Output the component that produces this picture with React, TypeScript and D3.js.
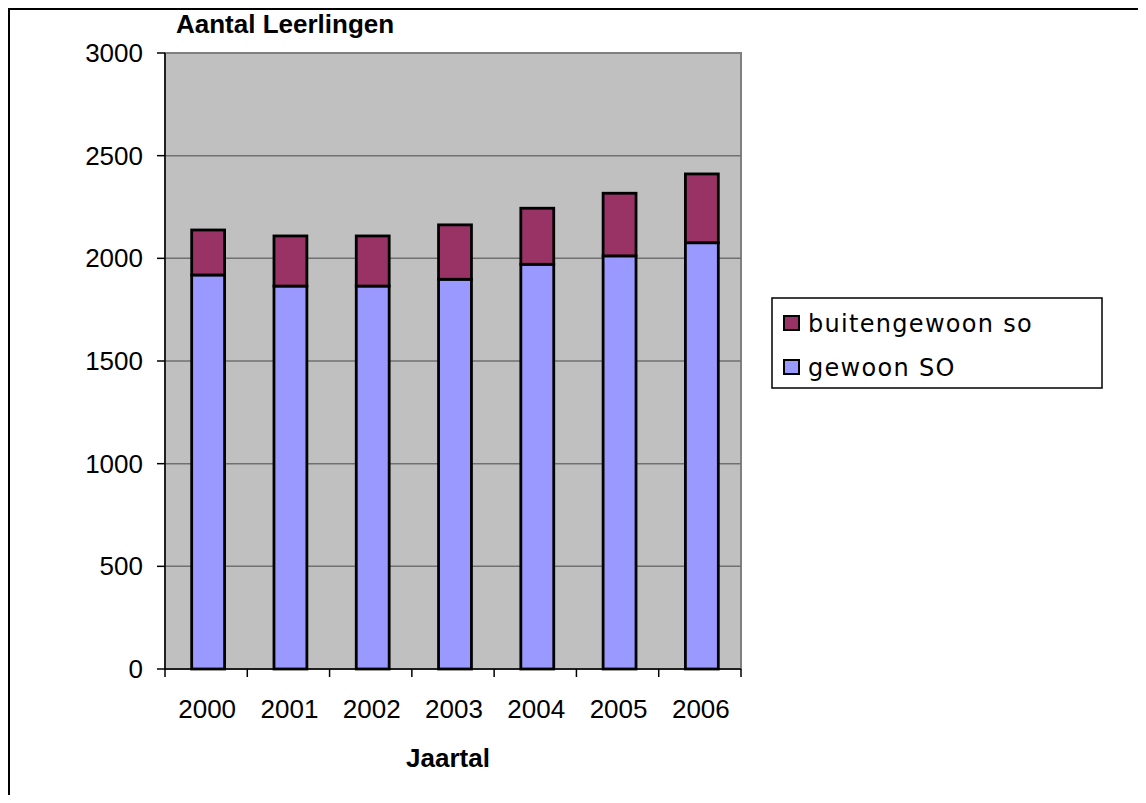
import { useMemo } from 'react'
import { scaleBand, scaleLinear, stack } from 'd3'

const YEARS = ['2000', '2001', '2002', '2003', '2004', '2005', '2006']
const GEWOON_SO = [1919, 1865, 1865, 1898, 1971, 2012, 2076]
const BUITENGEWOON_SO = [219, 244, 244, 265, 273, 305, 335]
const Y_TICKS = [0, 500, 1000, 1500, 2000, 2500, 3000]
const SERIES = [
  { key: 'gewoon', label: 'gewoon SO', color: '#9999FF' },
  { key: 'buiten', label: 'buitengewoon so', color: '#993366' },
]

const W = 1130
const H = 787
// plot area in svg coords (page minus 8px body margin)
const P = { left: 157, top: 45, right: 733, bottom: 661 }
const AXIS_FONT = '"Liberation Sans", Arial, sans-serif'
const LEGEND_FONT = '"DejaVu Sans", Verdana, sans-serif'

export default function App() {
  const { x, xTick, y, layers } = useMemo(() => {
    const x = scaleBand<string>()
      .domain(YEARS)
      .range([P.left + 2, P.right + 2])
      .paddingInner(0.6)
      .paddingOuter(0.3)
    const xTick = scaleBand<string>().domain(YEARS).range([P.left, P.right])
    const y = scaleLinear().domain([0, 3000]).range([P.bottom, P.top])
    const rows = YEARS.map((yr, i) => ({
      year: yr,
      gewoon: GEWOON_SO[i],
      buiten: BUITENGEWOON_SO[i],
    }))
    const layers = stack<any>().keys(SERIES.map((s) => s.key))(rows)
    return { x, xTick, y, layers }
  }, [])

  const legendItems = [...SERIES].reverse()

  return (
    <svg width={W} height={H} style={{ display: 'block' }}>
      <rect x={1} y={1} width={W + 50} height={H + 50} fill="#fff" stroke="#000" strokeWidth={2} />

      <text x={168} y={25} fontFamily={AXIS_FONT} fontSize={26} fontWeight="bold" fill="#000">
        Aantal Leerlingen
      </text>

      {/* plot area */}
      <rect
        x={P.left}
        y={P.top}
        width={P.right - P.left}
        height={P.bottom - P.top}
        fill="#C0C0C0"
        stroke="#808080"
        strokeWidth={2}
      />
      {Y_TICKS.filter((t) => t > 0 && t < 3000).map((t) => (
        <line key={t} x1={P.left} x2={P.right} y1={y(t)} y2={y(t)} stroke="#707070" strokeWidth={1.5} />
      ))}

      {/* bars */}
      {layers.map((layer, li) =>
        layer.map((d, i) => (
          <rect
            key={`${li}-${i}`}
            x={x(YEARS[i])}
            y={y(d[1])}
            width={x.bandwidth()}
            height={y(d[0]) - y(d[1])}
            fill={SERIES[li].color}
            stroke="#000"
            strokeWidth={2.8}
          />
        ))
      )}

      {/* y axis */}
      <line x1={P.left} x2={P.left} y1={P.top} y2={P.bottom} stroke="#000" strokeWidth={1.5} />
      {Y_TICKS.map((t) => (
        <g key={t}>
          <line x1={P.left - 8} x2={P.left} y1={y(t)} y2={y(t)} stroke="#000" strokeWidth={1.5} />
          <text
            x={P.left - 22}
            y={y(t) + 9}
            textAnchor="end"
            fontFamily={AXIS_FONT}
            fontSize={26}
            fill="#000"
          >
            {t}
          </text>
        </g>
      ))}

      {/* x axis */}
      <line x1={P.left} x2={P.right} y1={P.bottom} y2={P.bottom} stroke="#000" strokeWidth={1.5} />
      {[...YEARS.map((yr) => xTick(yr) as number), P.right].map((px, i) => (
        <line key={i} x1={px} x2={px} y1={P.bottom} y2={P.bottom + 8} stroke="#000" strokeWidth={1.5} />
      ))}
      {YEARS.map((yr) => (
        <text
          key={yr}
          x={(xTick(yr) as number) + xTick.bandwidth() / 2 + 1}
          y={710}
          textAnchor="middle"
          fontFamily={AXIS_FONT}
          fontSize={26}
          fill="#000"
        >
          {yr}
        </text>
      ))}
      <text x={440} y={759} textAnchor="middle" fontFamily={AXIS_FONT} fontSize={26} fontWeight="bold" fill="#000">
        Jaartal
      </text>

      {/* legend */}
      <rect x={764} y={290} width={330} height={90} fill="#fff" stroke="#000" strokeWidth={1.5} />
      {legendItems.map((s, i) => (
        <g key={s.key} transform={`translate(775, ${308 + i * 44})`}>
          <rect x={1} y={0} width={15} height={14} fill={s.color} stroke="#000" strokeWidth={2} />
          <text x={25} y={16} fontFamily={LEGEND_FONT} fontSize={24} letterSpacing={1.3} fill="#000">
            {s.label}
          </text>
        </g>
      ))}
    </svg>
  )
}
